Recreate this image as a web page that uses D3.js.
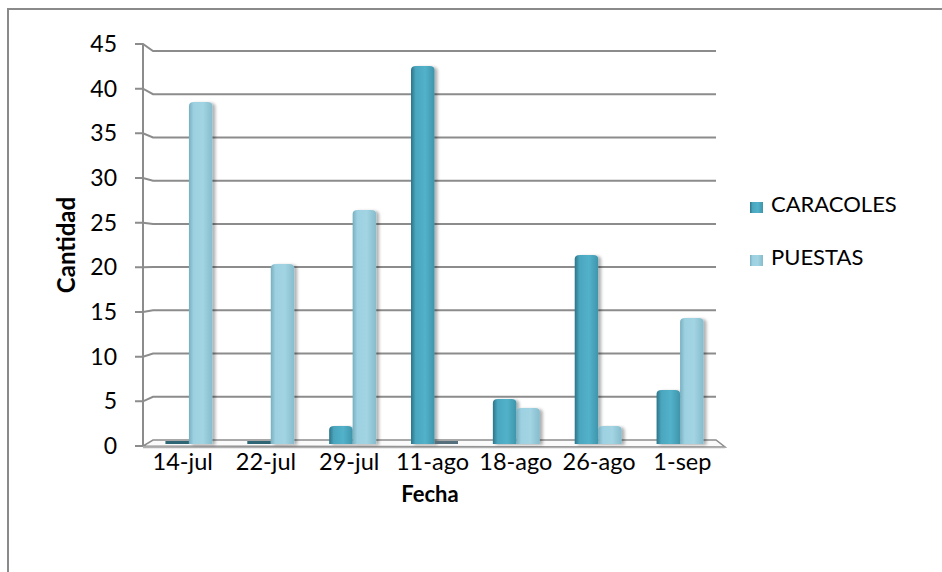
<!DOCTYPE html>
<html>
<head>
<meta charset="utf-8">
<script src="https://cdn.jsdelivr.net/npm/d3@7"></script>
<style>
  body { margin: 0; background: #fff; }
  text { font-family: Lato, "Open Sans", sans-serif; fill: #000; }
</style>
</head>
<body>
<div id="chart"></div>
<script>
var fechas = ["14-jul", "22-jul", "29-jul", "11-ago", "18-ago", "26-ago", "1-sep"];
var series = ["CARACOLES", "PUESTAS"];
var caracoles = [0, 0, 2, 42, 5, 21, 6];
var puestas = [38, 20, 26, 0, 4, 2, 14];
var yTicks = [0, 5, 10, 15, 20, 25, 30, 35, 40, 45];

var w = 942, h = 572;

var svg = d3.select("#chart").append("svg")
    .attr("width", w)
    .attr("height", h);

svg.append("rect")
    .attr("width", w).attr("height", h)
    .attr("fill", "#fff");

// outer frame (right and bottom edges fall outside the picture)
svg.append("rect")
    .attr("x", 8).attr("y", 9)
    .attr("width", 1000).attr("height", 700)
    .attr("fill", "none")
    .attr("stroke", "#8a8a8a")
    .attr("stroke-width", 2);

// front (axis) scale and back wall scale - perspective
var yFront = d3.scaleLinear().domain([0, 45]).range([446, 44]);
var yBack = d3.scaleLinear().domain([0, 45]).range([440, 51]);
var yBar = d3.scaleLinear().domain([0, 45]).range([444, 39]);

var x0 = d3.scaleBand().domain(fechas).range([148, 721])
    .paddingInner(0.426).paddingOuter(0.213);
var x1 = d3.scaleBand().domain(series).range([0, x0.bandwidth()]);
var xLabel = d3.scaleBand().domain(fechas).range([141, 724]);

var colours = {
  "CARACOLES": ["#2c7488", "#4aa6be", "#52b2ca", "#3f95ab"],
  "PUESTAS": ["#78afc0", "#9dd1e1", "#a2d4e3", "#86bccc"]
};

var defs = svg.append("defs");
series.forEach(function(s) {
  var g = defs.append("linearGradient")
      .attr("id", "grad-" + s)
      .attr("x1", "0%").attr("x2", "100%").attr("y1", "0%").attr("y2", "0%");
  [0, 0.2, 0.6, 1].forEach(function(o, i) {
    g.append("stop").attr("offset", o).attr("stop-color", colours[s][i]);
  });
});
var shadow = defs.append("filter").attr("id", "shadow")
    .attr("x", "-20%").attr("y", "-5%").attr("width", "160%").attr("height", "115%");
shadow.append("feDropShadow")
    .attr("dx", 3).attr("dy", 1).attr("stdDeviation", 1.5)
    .attr("flood-color", "#000").attr("flood-opacity", 0.3);

// gridlines on the back wall, with short ticks on the left wall
var grid = svg.append("g");
yTicks.forEach(function(t) {
  if (t > 0) {
    grid.append("path")
        .attr("d", "M135," + yFront(t) + "H143L153," + yBack(t) + "H716")
        .attr("fill", "none")
        .attr("stroke", "#8c8c8c")
        .attr("stroke-width", 2);
  } else {
    grid.append("path")
        .attr("d", "M135," + yFront(t) + "H143")
        .attr("stroke", "#8c8c8c")
        .attr("stroke-width", 2);
  }
});

// left wall edge
svg.append("line")
    .attr("x1", 143).attr("x2", 143)
    .attr("y1", yFront(45)).attr("y2", yFront(0))
    .attr("stroke", "#8c8c8c").attr("stroke-width", 2);

// floor
svg.append("path")
    .attr("d", "M143," + yFront(0) + "L725,447L716," + yBack(0) + "L153," + yBack(0) + "Z")
    .attr("fill", "#fafafa")
    .attr("stroke", "#8c8c8c")
    .attr("stroke-width", 1.5);
svg.append("line")
    .attr("x1", 143).attr("x2", 725)
    .attr("y1", 447.5).attr("y2", 447.5)
    .attr("stroke", "#b0b0b0").attr("stroke-width", 1.5);

// bars
var rows = fechas.map(function(f, i) {
  return { fecha: f, values: [
    { key: "CARACOLES", value: caracoles[i] },
    { key: "PUESTAS", value: puestas[i] }
  ]};
});

function barPath(x, y, bw, base) {
  var r = 5, ry = 4;
  if (base - y < ry) ry = base - y;
  return "M" + x + "," + base +
    "V" + (y + ry) +
    "Q" + x + "," + y + " " + (x + r) + "," + y +
    "H" + (x + bw - r) +
    "Q" + (x + bw) + "," + y + " " + (x + bw) + "," + (y + ry) +
    "V" + base + "Z";
}

var groups = svg.selectAll("g.grupo")
    .data(rows)
    .enter().append("g")
    .attr("class", "grupo")
    .attr("transform", function(d) { return "translate(" + x0(d.fecha) + ",0)"; });

groups.selectAll("path.bar")
    .data(function(d) { return d.values.filter(function(v) { return v.value > 0; }); })
    .enter().append("path")
    .attr("class", "bar")
    .attr("filter", "url(#shadow)")
    .attr("fill", function(d) { return "url(#grad-" + d.key + ")"; })
    .attr("d", function(d) {
      return barPath(x1(d.key), yBar(d.value), x1.bandwidth(), yBar(0));
    });

// empty values drawn as a thin slab on the floor
groups.selectAll("rect.cero")
    .data(function(d) { return d.values.filter(function(v) { return v.value === 0; }); })
    .enter().append("rect")
    .attr("class", "cero")
    .attr("x", function(d) { return x1(d.key); })
    .attr("y", yBar(0) - 3)
    .attr("width", x1.bandwidth())
    .attr("height", 3)
    .attr("fill", function(d) { return d.key === "CARACOLES" ? "#2f6675" : "#55707c"; });

// tick labels
svg.selectAll("text.ytick")
    .data(yTicks)
    .enter().append("text")
    .attr("class", "ytick")
    .attr("x", 117)
    .attr("y", function(d) { return yFront(d); })
    .attr("dy", "0.35em")
    .attr("text-anchor", "end")
    .attr("font-size", "23px")
    .text(function(d) { return d; });

svg.selectAll("text.xtick")
    .data(fechas)
    .enter().append("text")
    .attr("class", "xtick")
    .attr("x", function(d) { return xLabel(d) + xLabel.bandwidth() / 2; })
    .attr("y", 462)
    .attr("dy", "0.35em")
    .attr("text-anchor", "middle")
    .attr("font-size", "23.5px")
    .text(function(d) { return d; });

svg.append("text")
    .attr("x", 430).attr("y", 494)
    .attr("dy", "0.35em")
    .attr("text-anchor", "middle")
    .attr("font-size", "22px")
    .attr("font-weight", "bold")
    .text("Fecha");

svg.append("text")
    .attr("transform", "translate(67,245) rotate(-90)")
    .attr("dy", "0.35em")
    .attr("text-anchor", "middle")
    .attr("font-size", "24px")
    .attr("font-weight", "bold")
    .text("Cantidad");

// legend
var legend = svg.selectAll("g.legend")
    .data(series)
    .enter().append("g")
    .attr("class", "legend")
    .attr("transform", function(d, i) { return "translate(750," + (204 + i * 53) + ")"; });

legend.append("rect")
    .attr("x", 0).attr("y", -2)
    .attr("width", 13).attr("height", 11)
    .attr("fill", function(d) { return "url(#grad-" + d + ")"; });

legend.append("text")
    .attr("x", 21)
    .attr("dy", "0.35em")
    .attr("font-size", "22px")
    .text(function(d) { return d; });
</script>
</body>
</html>
